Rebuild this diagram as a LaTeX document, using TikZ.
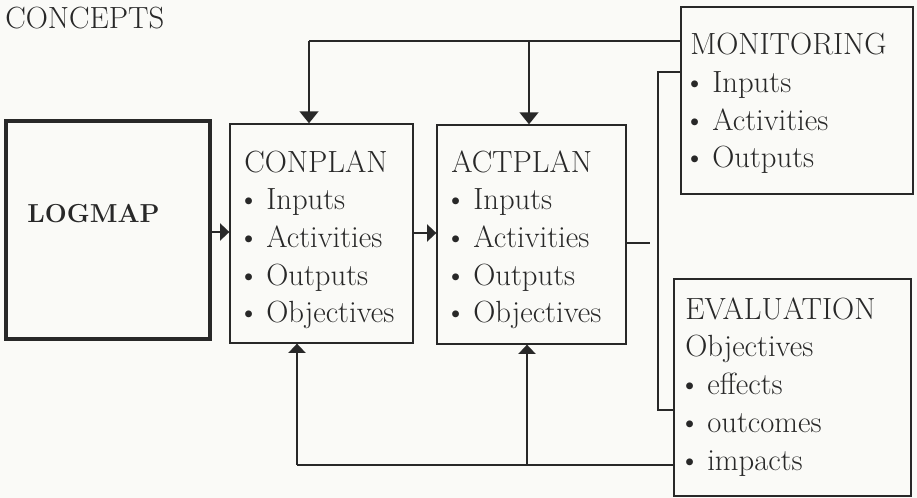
\documentclass[tikz,border=0pt]{standalone}
\usetikzlibrary{arrows.meta,fit}
\definecolor{ink}{RGB}{40,40,40}
\definecolor{paper}{RGB}{250,250,247}
\newcommand\bulitem{\hspace*{-0.22em}\textbullet\hspace{0.22em}}
\begin{document}
\begin{tikzpicture}[x=0.75pt,y=-0.75pt,
  box/.style={draw=ink,line width=1pt,inner sep=0pt},
  thickbox/.style={draw=ink,line width=2.5pt,inner sep=0pt},
  txt/.style={text=ink,align=left,inner sep=0pt,anchor=base west,font=\fontsize{23}{28.3}\selectfont},
  conn/.style={draw=ink,line width=0.9pt},
  arr/.style={conn,-{Triangle[length=7pt,width=13pt]}},
  arrv/.style={draw=ink,line width=1.8pt,-{Triangle[length=9pt,width=14pt]}}
]
\path[fill=paper,use as bounding box] (0,0) rectangle (917,498);

% title
\node[txt] (title) at (5,29) {CONCEPTS};

% boxes
\node[thickbox,fit={(6,121) (210,339)}] (logmap) {};
\node[box,fit={(230,124) (413,343)}] (conplan) {};
\node[box,fit={(437,125) (626,344)}] (actplan) {};
\node[box,fit={(681,7) (913,194)}] (mon) {};
\node[box,fit={(674,279) (911,496)}] (eval) {};

% texts (anchored at the baseline of the last line)
\node[text=ink,anchor=base west,inner sep=0pt,font=\fontsize{19.5}{23}\selectfont\bfseries] (logtxt) at (27,223) {LOGMAP};
\node[txt] (contxt) at (244,323) {CONPLAN\\\bulitem Inputs\\\bulitem Activities\\\bulitem Outputs\\\bulitem Objectives};
\node[txt] (acttxt) at (451,323) {ACTPLAN\\\bulitem Inputs\\\bulitem Activities\\\bulitem Outputs\\\bulitem Objectives};
\node[txt] (montxt) at (690,168) {MONITORING\\\bulitem Inputs\\\bulitem Activities\\\bulitem Outputs};
\node[txt] (evaltxt) at (685,470) {EVALUATION\\Objectives\\\bulitem effects\\\bulitem outcomes\\\bulitem impacts};

% top feedback from monitoring
\coordinate (j1) at (309,41);
\coordinate (j2) at (529,41);
\draw[conn] (j1 -| mon.west) -- (j1);
\draw[arrv] (j1) -- (j1 |- conplan.north);
\draw[arrv] (j2) -- (j2 |- actplan.north);

% right vertical link monitoring - evaluation
\coordinate (r1) at (658,72);
\coordinate (r2) at (658,410);
\draw[conn] (r1 -| mon.west) -- (r1) -- (r2) -- (r2 -| eval.west);

% short line from actplan
\coordinate (s1) at (650,243);
\draw[conn] (s1 -| actplan.east) -- (s1);

% bottom feedback from evaluation
\coordinate (b1) at (297,465);
\coordinate (b2) at (527,465);
\draw[conn] (b1 -| eval.west) -- (b1);
\draw[arr] (b1) -- (b1 |- conplan.south);
\draw[arr] (b2) -- (b2 |- actplan.south);

% horizontal flow
\coordinate (h1) at (0,232);
\draw[arr] (h1 -| logmap.east) -- (h1 -| conplan.west);
\coordinate (h2) at (0,233);
\draw[arr] (h2 -| conplan.east) -- (h2 -| actplan.west);
\end{tikzpicture}
\end{document}
